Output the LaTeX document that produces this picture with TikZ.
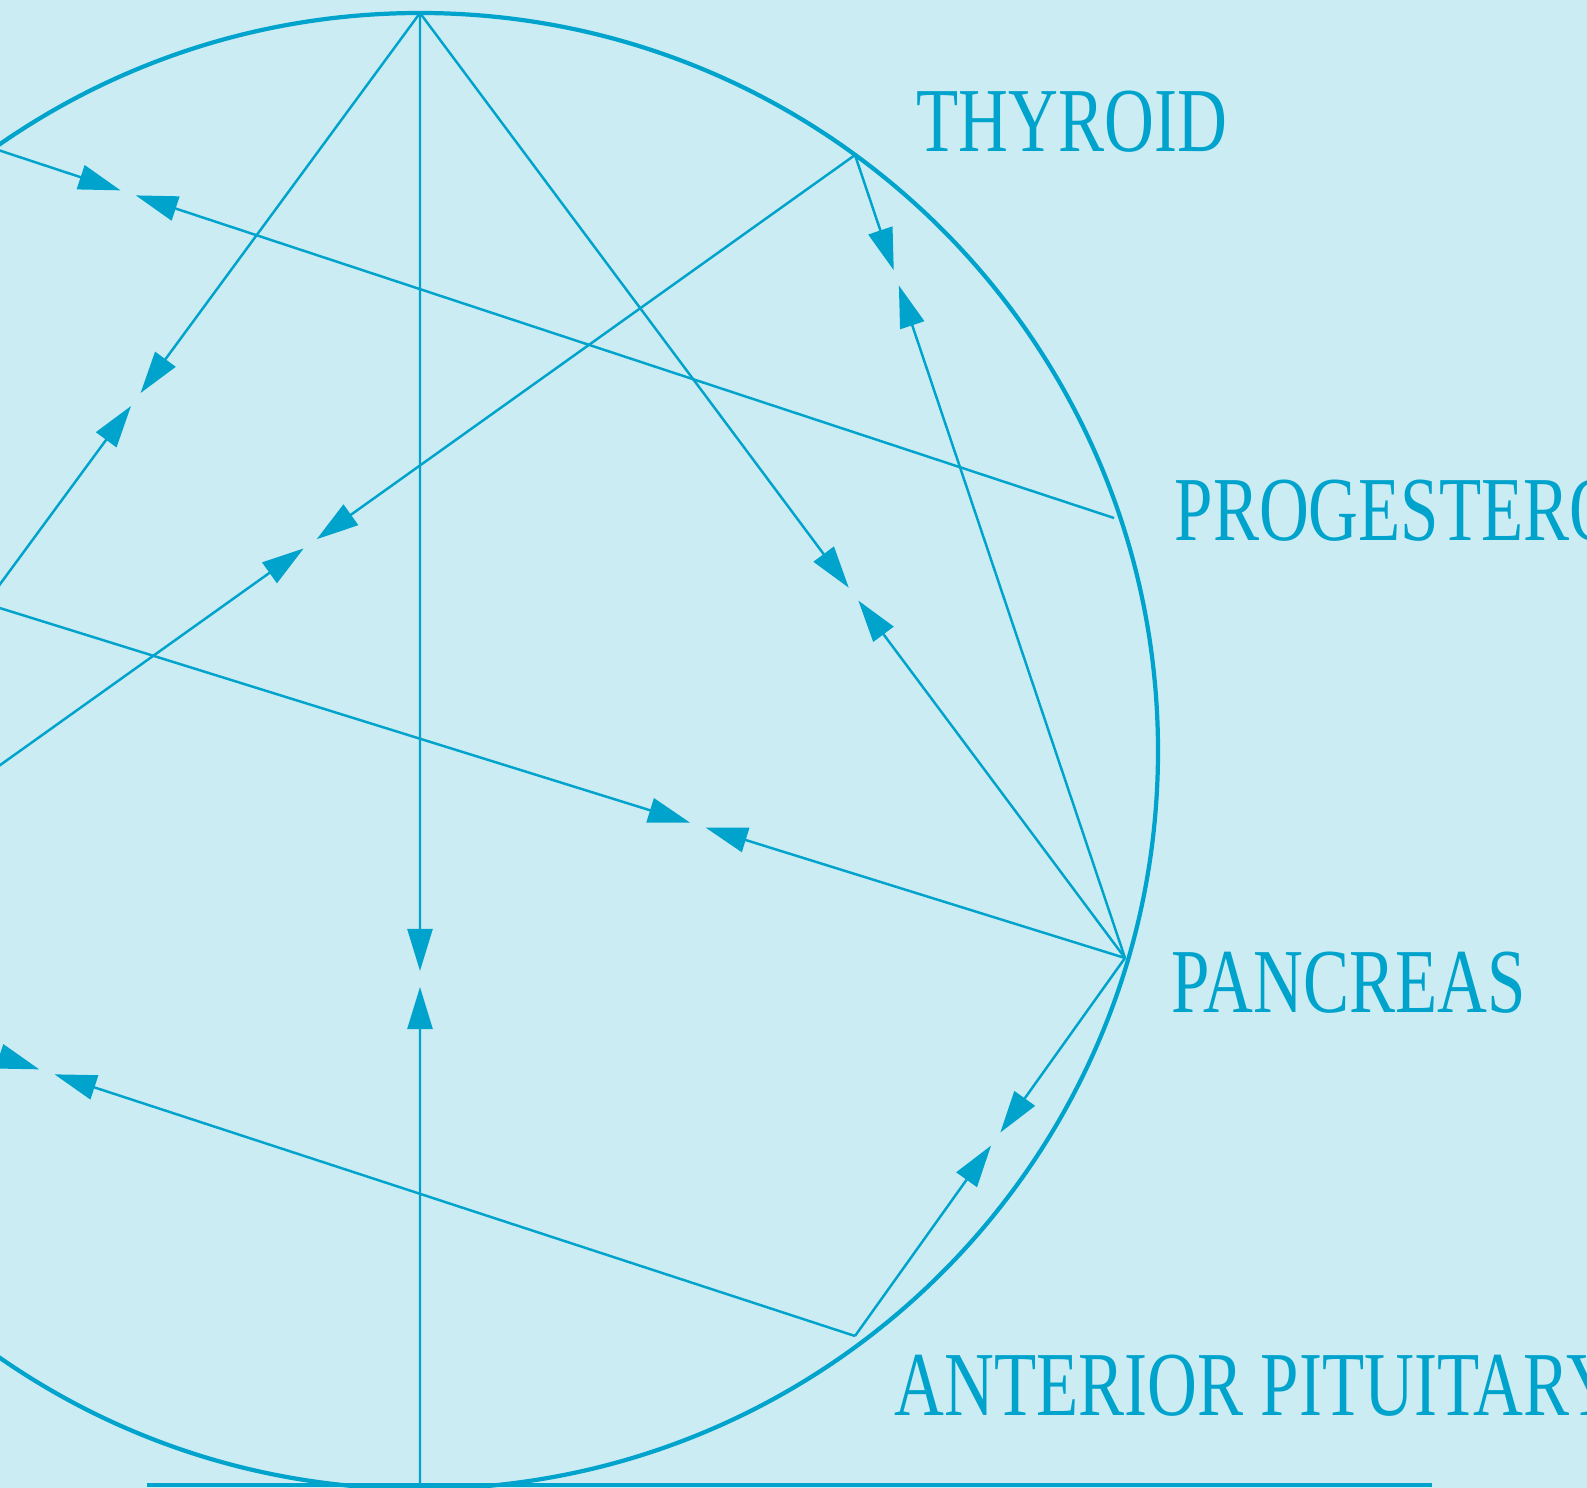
\documentclass[tikz,border=0pt]{standalone}
\usepackage{fontspec}
\usepackage{tikz}
\usetikzlibrary{arrows.meta,positioning,calc}
\usepackage{xcolor}

\definecolor{paper}{RGB}{203,236,243}
\definecolor{ink}{RGB}{0,163,204}
\newfontfamily\glandfont[FakeStretch=0.755]{Liberation Serif}

\tikzset{
  rim/.style={draw=ink, line width=1.2pt},
  chord/.style={draw=ink, line width=0.7pt,
    -{Triangle[length=4.2mm,width=2.5mm]}, shorten >=0.8mm},
  gland/.style={text=ink, anchor=base west, inner sep=0pt,
    font=\glandfont\fontsize{26}{30}\selectfont}
}

\begin{document}
\begin{tikzpicture}[x=0.01cm, y=-0.01cm]

  % Frame
  \useasboundingbox (0,0) rectangle (1587,1488);
  \fill[paper] (0,0) rectangle (1587,1488);
  \clip (0,0) rectangle (1587,1488);

  % Define points on the circle
  \coordinate (Top) at (420,13);
  \coordinate (Thy) at (855,155);
  \coordinate (Pro) at (1114,518);
  \coordinate (Pan) at (1125,958);
  \coordinate (Ant) at (855,1336);
  \coordinate (Bot) at (420,1490);
  \coordinate (Lfa) at (-280,965);
  \coordinate (Lfb) at (-280,521);
  \coordinate (Lfc) at (-14,146);

  % Meeting points of the arrows
  \coordinate (mTB) at ($(Top)!0.654!(Bot)$);
  \coordinate (mTL) at ($(Top)!0.406!(Lfa)$);
  \coordinate (mTP) at ($(Top)!0.615!(Pan)$);
  \coordinate (mYL) at ($(Thy)!0.480!(Lfa)$);
  \coordinate (mYP) at ($(Thy)!0.153!(Pan)$);
  \coordinate (mCR) at ($(Lfc)!0.126!(Pro)$);
  \coordinate (mBP) at ($(Lfb)!0.696!(Pan)$);
  \coordinate (mPA) at ($(Pan)!0.479!(Ant)$);
  \coordinate (mLA) at ($(Lfa)!0.288!(Ant)$);

  % Circle and base line
  \draw[rim] (420,751) circle[radius=738];
  \draw[draw=ink, line width=0.9pt] (147,1485) -- (1432,1485);

  % Draw arrows
  \draw[chord] (Top) -- (mTB);
  \draw[chord] (Bot) -- (mTB);
  \draw[chord] (Top) -- (mTL);
  \draw[chord] (Lfa) -- (mTL);
  \draw[chord] (Top) -- (mTP);
  \draw[chord] (Pan) -- (mTP);
  \draw[chord] (Thy) -- (mYL);
  \draw[chord] (Lfa) -- (mYL);
  \draw[chord] (Thy) -- (mYP);
  \draw[chord] (Pan) -- (mYP);
  \draw[chord] (Lfc) -- (mCR);
  \draw[chord] (Pro) -- (mCR);
  \draw[chord] (Lfb) -- (mBP);
  \draw[chord] (Pan) -- (mBP);
  \draw[chord] (Pan) -- (mPA);
  \draw[chord] (Ant) -- (mPA);
  \draw[chord] (Lfa) -- (mLA);
  \draw[chord] (Ant) -- (mLA);

  % Labels
  \node[gland] (thyroid) at (916,152) {THYROID};
  \node[gland] (progesterone) at (1174,541) {PROGESTERONE};
  \node[gland] (pancreas) at (1171,1012) {PANCREAS};
  \node[gland] (pituitary) at (894,1415) {ANTERIOR PITUITARY};
\end{tikzpicture}
\end{document}
